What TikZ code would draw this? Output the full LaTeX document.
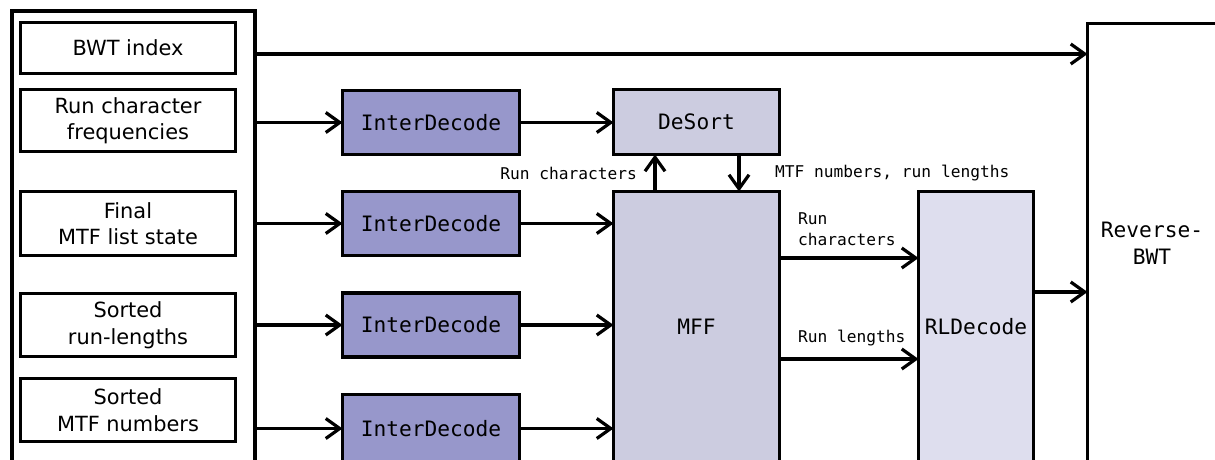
\documentclass[tikz,border=0pt]{standalone}
\usepackage{fontspec}
\setmainfont{DejaVu Sans}
\setmonofont{DejaVu Sans Mono}
\usetikzlibrary{arrows.meta}
\definecolor{idfill}{RGB}{151,151,203}
\definecolor{mfill}{RGB}{204,204,224}
\definecolor{rlfill}{RGB}{222,222,238}
\tikzset{
  box/.style={draw=black, line width=3.3pt, inner sep=0pt, outer sep=0pt, align=center},
  srcbox/.style={box, fill=white, minimum width=215pt, font=\fontsize{20.9}{26.5}\selectfont},
  procbox/.style={box, font=\ttfamily\fontsize{21.2}{27}\selectfont},
  idbox/.style={procbox, fill=idfill, minimum width=177pt, minimum height=64pt},
  lbl/.style={inner sep=0pt, font=\ttfamily\fontsize{16.2}{21}\selectfont, align=left},
  arr/.style={line width=3.2pt, -{Straight Barb[length=14pt, width=20pt, line width=3.2pt]}}
}
\begin{document}
\begin{tikzpicture}[x=1pt, y=-1pt]
\useasboundingbox (0,0) rectangle (1215,460);
\clip (0,0) rectangle (1215,460);
\fill[white] (0,0) rectangle (1215,460);

% outer container
\node[box, fill=white, minimum width=243pt, minimum height=451.5pt] (outer) at (133.5,236.75) {};
\node[srcbox, minimum height=51pt] (bwt) at (128,48) {BWT index};
\node[srcbox, minimum height=62pt] (rcf) at (128,120.5) {Run character\\frequencies};
\node[srcbox, minimum height=64pt] (fin) at (128,223.5) {Final\\MTF list state};
\node[srcbox, minimum height=63pt] (srl) at (128,325) {Sorted\\run-lengths};
\node[srcbox, minimum height=63pt] (smtf) at (128,410) {Sorted\\MTF numbers};

% InterDecode
\node[idbox] (id1) at (431,122.5) {InterDecode};
\node[idbox] (id2) at (431,223.5) {InterDecode};
\node[idbox] (id3) at (431,325) {InterDecode};
\node[idbox, minimum height=68pt] (id4) at (431,428.5) {InterDecode};

% DeSort, MFF, RLDecode, Reverse-BWT
\node[procbox, fill=mfill, minimum width=166pt, minimum height=65pt] (desort) at (696.5,122) {DeSort};
\node[procbox, fill=mfill, minimum width=166pt, minimum height=271pt] (mff) at (696.5,327) {MFF};
\node[procbox, fill=rlfill, minimum width=115pt, minimum height=271pt] (rld) at (976,327) {RLDecode};
\node[procbox, fill=white, minimum width=129pt, minimum height=439pt] (rbwt) at (1152,243) {Reverse-\\BWT};

% connectors
\coordinate (ybwt) at (0,54);
\draw[arr] (outer.east |- ybwt) -- (rbwt.west |- ybwt);
\draw[arr] (outer.east |- id1.west) -- (id1.west);
\draw[arr] (outer.east |- id2.west) -- (id2.west);
\draw[arr] (outer.east |- id3.west) -- (id3.west);
\draw[arr] (outer.east |- id4.west) -- (id4.west);
\draw[arr] (id1.east) -- (id1.east -| desort.west);
\draw[arr] (id2.east) -- (id2.east -| mff.west);
\draw[arr] (id3.east) -- (id3.east -| mff.west);
\draw[arr] (id4.east) -- (id4.east -| mff.west);

\coordinate (xup) at (655,0);
\coordinate (xdn) at (739,0);
\draw[arr] (xup |- mff.north) -- (xup |- desort.south);
\draw[arr] (xdn |- desort.south) -- (xdn |- mff.north);
\node[lbl, anchor=east] (lrc) at (637,173) {Run characters};
\node[lbl, anchor=west] (lmtf) at (775,173) {MTF numbers, run lengths};

\coordinate (yrc) at (0,258);
\coordinate (yrl) at (0,359);
\coordinate (yout) at (0,292);
\draw[arr] (mff.east |- yrc) -- (rld.west |- yrc);
\draw[arr] (mff.east |- yrl) -- (rld.west |- yrl);
\draw[arr] (rld.east |- yout) -- (rbwt.west |- yout);
\node[lbl, anchor=west] (lrc2) at (798,229) {Run\\characters};
\node[lbl, anchor=west] (lrl) at (798,338) {Run lengths};
\end{tikzpicture}
\end{document}
